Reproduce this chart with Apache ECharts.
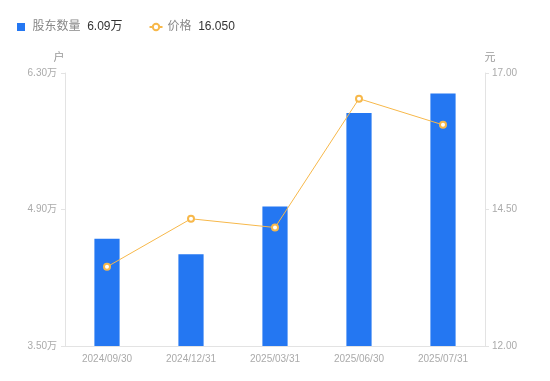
<!DOCTYPE html>
<html><head><meta charset="utf-8">
<script src="https://cdn.jsdelivr.net/npm/echarts@6/dist/echarts.min.js"></script>
<style>html,body{margin:0;padding:0;background:#fff}#c{width:550px;height:381px}</style>
</head><body><div id="c"></div>
<script>
const categories = ['2024/09/30','2024/12/31','2025/03/31','2025/06/30','2025/07/31'];
const holders = [4.60, 4.44, 4.93, 5.89, 6.09]; // 万户
const prices = [13.45, 14.33, 14.17, 16.53, 16.05]; // 元
const leftTicks = {min: 3.5, max: 6.3, interval: 1.4};
const rightTicks = {min: 12, max: 17, interval: 2.5};

const chart = echarts.init(document.getElementById('c'));
const lastH = holders[holders.length-1].toFixed(2) + '万';
const lastP = prices[prices.length-1].toFixed(3);
chart.setOption({
  animation: false,
  textStyle: {fontFamily: '"Liberation Sans", "Noto Sans CJK SC", sans-serif'},
  legend: {
    left: 12, top: 16, itemGap: 26, itemWidth: 13, itemHeight: 8,
    data: [{name: '股东数量', icon: 'path://M0,0H10V10H0Z'}, {name: '价格'}],
    formatter: function (name) {
      return '{n|' + name + '}  {v|' + (name === '股东数量' ? lastH : lastP) + '}';
    },
    textStyle: {
      rich: {
        n: {color: '#888', fontSize: 12},
        v: {color: '#333', fontSize: 12}
      }
    }
  },
  grid: {left: 65, right: 65, top: 73, bottom: 35},
  xAxis: {
    type: 'category', data: categories,
    axisLine: {lineStyle: {color: '#e3e3e3'}},
    axisTick: {show: false},
    axisLabel: {color: '#aaa', fontSize: 10, margin: 8}
  },
  yAxis: [{
    type: 'value', name: '户', min: leftTicks.min, max: leftTicks.max, interval: leftTicks.interval,
    nameTextStyle: {color: '#999', fontSize: 11, padding: [0, 0, 0, -12]}, nameGap: 10,
    axisLine: {show: true, lineStyle: {color: '#e3e3e3'}},
    axisTick: {show: true, length: 4, lineStyle: {color: '#e3e3e3'}},
    splitLine: {show: false},
    axisLabel: {color: '#aaa', fontSize: 10, margin: 8, formatter: v => v.toFixed(2) + '万'}
  }, {
    type: 'value', name: '元', min: rightTicks.min, max: rightTicks.max, interval: rightTicks.interval,
    nameTextStyle: {color: '#999', fontSize: 11, padding: [0, 0, 0, 10]}, nameGap: 10,
    axisLine: {show: true, lineStyle: {color: '#e3e3e3'}},
    axisTick: {show: true, length: 4, lineStyle: {color: '#e3e3e3'}},
    splitLine: {show: false},
    axisLabel: {color: '#aaa', fontSize: 10, margin: 7, formatter: v => v.toFixed(2)}
  }],
  series: [{
    name: '股东数量', type: 'bar', yAxisIndex: 0, data: holders, barWidth: '30%',
    itemStyle: {color: '#2477f2'}
  }, {
    name: '价格', type: 'line', yAxisIndex: 1, data: prices,
    symbol: 'emptyCircle', symbolSize: 6,
    lineStyle: {color: '#f7b84a', width: 1},
    itemStyle: {color: '#f7b84a', borderWidth: 2}
  }]
});
</script></body></html>
